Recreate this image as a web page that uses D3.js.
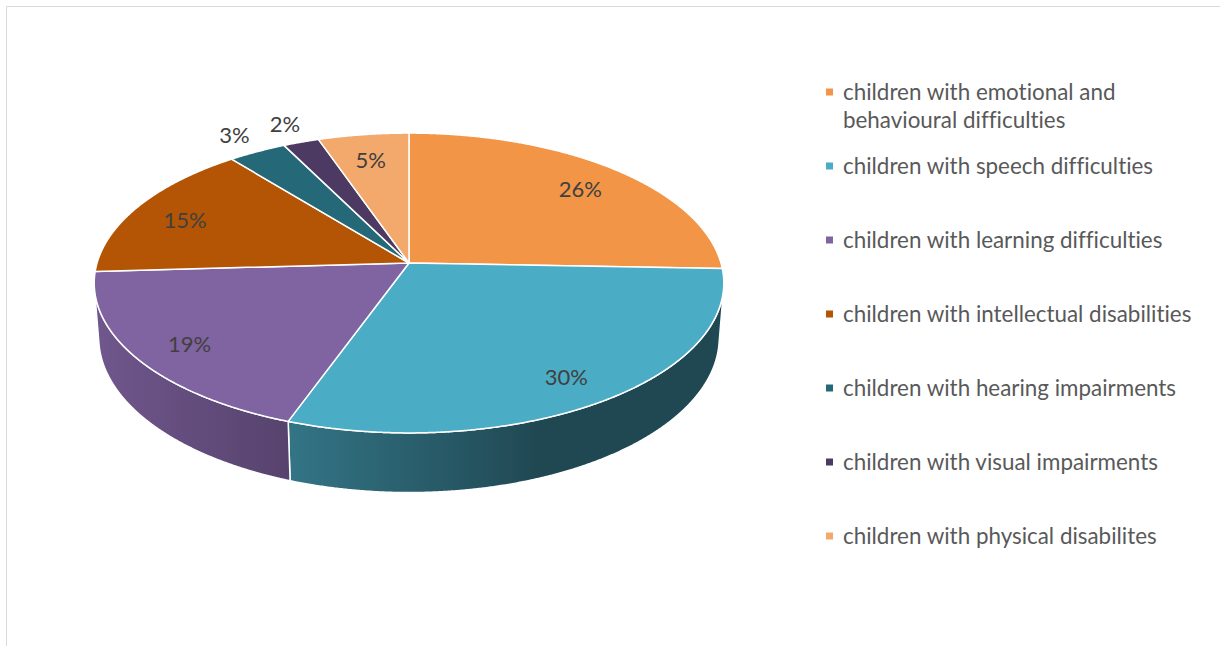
<!DOCTYPE html>
<html>
<head>
<meta charset="utf-8">
<script src="https://cdn.jsdelivr.net/npm/d3@7"></script>
<style>
  html, body { margin: 0; padding: 0; background: #ffffff; }
  svg { display: block; }
  text { font-family: Lato, "Open Sans", "Liberation Sans", sans-serif; font-variant-ligatures: none; }
</style>
</head>
<body>
<svg id="chart" width="1220" height="646"></svg>
<script>
// Share of children by type of difficulty (percent of total)
const categories = [
  "children with emotional and behavioural difficulties",
  "children with speech difficulties",
  "children with learning difficulties",
  "children with intellectual disabilities",
  "children with hearing impairments",
  "children with visual impairments",
  "children with physical disabilites"
];
const shares = [25.6, 29.9, 18.6, 15.1, 3.4, 2.1, 5.3];
const colors = ["#F29546", "#4BACC6", "#8063A1", "#B35504", "#256878", "#4D3A62", "#F4A96C"];

const svg = d3.select("#chart");
const W = 1220, H = 646;

// chart area frame
svg.append("path")
  .attr("d", `M6.5,${H} V6.5 H${W}`)
  .attr("fill", "none")
  .attr("stroke", "#D9D9D9")
  .attr("stroke-width", 1);

// --- perspective camera for a tilted disc of radius 1 ---
const cam = { cx: 409, cy: 263, f: 2062, D: 6.61, tilt: Math.asin(0.472) };
const depth = 0.2;             // disc thickness
const sinT = Math.sin(cam.tilt), cosT = Math.cos(cam.tilt);

function project(x, y, z) {
  const w = cam.D + z * cosT - y * sinT;
  const v = y * cosT + z * sinT;
  return [cam.cx + cam.f * x / w, cam.cy - cam.f * v / w];
}
// point on the rim at pie angle a (clockwise from 12 o'clock)
const rim = (a, r, y) => project(r * Math.sin(a), y, r * Math.cos(a));

// angles where the side wall turns away from the camera
const silA = Math.acos(-1 / (cam.D * cosT));
const silB = 2 * Math.PI - silA;

const pie = d3.pie().sort(null).value(d => d);
const arcs = pie(shares);

const line = d3.line();
const step = Math.PI / 720;
function arcPoints(a0, a1, r, y) {
  const n = Math.max(2, Math.ceil((a1 - a0) / step));
  return d3.range(n + 1).map(i => rim(a0 + (a1 - a0) * i / n, r, y));
}

const defs = svg.append("defs");
const k = d3.scaleLinear().domain([100, 540]).range([0.87, 0.42]).clamp(true);
const shade = (c, f) => { const r = d3.rgb(c); return d3.rgb(r.r * f, r.g * f, r.b * f).formatHex(); };

arcs.forEach((d, i) => {
  const g = defs.append("linearGradient")
    .attr("id", "wall" + i)
    .attr("gradientUnits", "userSpaceOnUse")
    .attr("x1", k.domain()[0]).attr("x2", k.domain()[1])
    .attr("y1", 0).attr("y2", 0);
  g.append("stop").attr("offset", 0).attr("stop-color", shade(colors[i], k.range()[0]));
  g.append("stop").attr("offset", 1).attr("stop-color", shade(colors[i], k.range()[1]));
});

const pieG = svg.append("g");

// visible outer walls
arcs.forEach((d, i) => {
  const a0 = Math.max(d.startAngle, silA), a1 = Math.min(d.endAngle, silB);
  if (a1 <= a0) return;
  const pts = arcPoints(a0, a1, 1, 0).concat(arcPoints(a0, a1, 1, -depth).reverse());
  pieG.append("path")
    .attr("d", line(pts) + "Z")
    .attr("fill", `url(#wall${i})`)
    .attr("stroke", "#ffffff")
    .attr("stroke-width", 1.5)
    .attr("stroke-linejoin", "round");
});

// top faces
arcs.forEach((d, i) => {
  const pts = [project(0, 0, 0)].concat(arcPoints(d.startAngle, d.endAngle, 1, 0));
  pieG.append("path")
    .attr("d", line(pts) + "Z")
    .attr("fill", colors[i])
    .attr("stroke", "#ffffff")
    .attr("stroke-width", 1.5)
    .attr("stroke-linejoin", "round");
});

// data labels
const fmt = d3.format(".0%");
arcs.forEach((d, i) => {
  const mid = (d.startAngle + d.endAngle) / 2;
  const r = d.data < 4 ? 1.17 : 0.82;
  const [x, y] = rim(mid, r, 0);
  svg.append("text")
    .attr("x", x).attr("y", y).attr("dy", d.data < 4 ? "0.35em" : "0.55em")
    .attr("text-anchor", "middle")
    .attr("font-size", 22)
    .attr("fill", "#404040")
    .text(fmt(d.data / 100));
});

// legend
const ly = d3.scaleLinear().domain([0, categories.length - 1]).range([92, 536]);
const legend = svg.append("g");
categories.forEach((name, i) => {
  const y = ly(i);
  legend.append("rect")
    .attr("x", 826).attr("y", y - 3.5)
    .attr("width", 7).attr("height", 7)
    .attr("fill", colors[i]);
  const t = legend.append("text")
    .attr("x", 843).attr("y", y).attr("dy", "0.35em")
    .attr("font-size", 22.4)
    .attr("fill", "#595959");
  // wrap long entries
  const words = name.split(" ");
  let cur = [];
  let ts = t.append("tspan").attr("x", 843);
  words.forEach(wd => {
    cur.push(wd);
    ts.text(cur.join(" "));
    if (ts.node().getComputedTextLength() > 365 && cur.length > 1) {
      cur.pop();
      ts.text(cur.join(" "));
      cur = [wd];
      ts = t.append("tspan").attr("x", 843).attr("dy", 28).text(wd);
    }
  });
});
</script>
</body>
</html>
